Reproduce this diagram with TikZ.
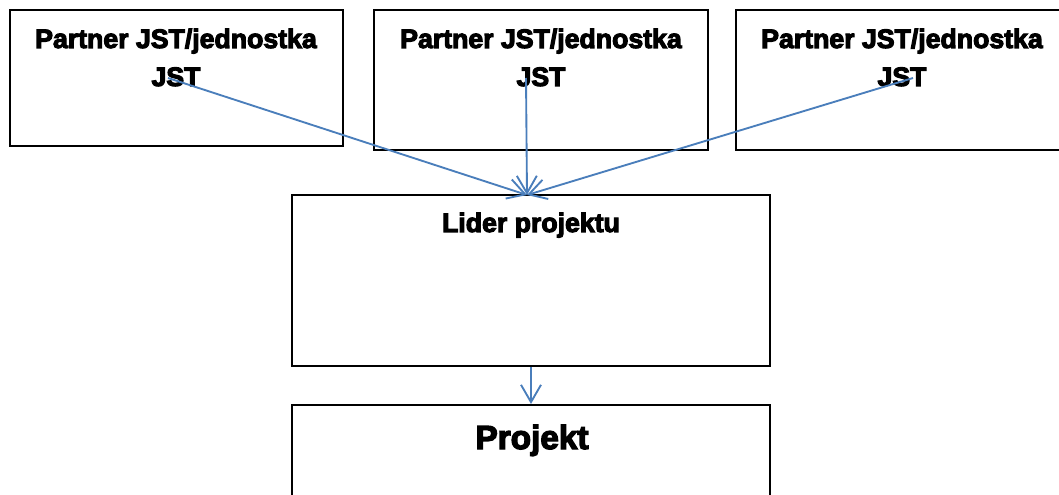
\documentclass[tikz,border=0pt]{standalone}
\usepackage{fontspec}
\setmainfont{Liberation Sans}
\newfontfamily\heavyfont[FakeBold=4]{Liberation Sans Bold}
\usetikzlibrary{arrows.meta}
\definecolor{linkblue}{RGB}{74,126,187}

\begin{document}
\begin{tikzpicture}[x=0.75pt,y=-0.75pt,
  box/.style={draw, line width=1.5pt, rectangle, inner sep=0pt},
  boxtext/.style={font=\fontsize{20}{24}\selectfont\heavyfont, anchor=base, inner sep=0pt},
  link/.style={draw=linkblue, line width=1.4pt, -{Straight Barb[length=13pt,width=15pt]}}]
\useasboundingbox (0,0) rectangle (1059,495);
\foreach \i/\cx/\cy/\w/\h/\tx/\sx in {1/176.5/78/249.75pt/102pt/176/168, 2/541/80/250.5pt/105pt/541/526, 3/905.5/80/254.25pt/105pt/902/913}
{
\node[name=partner\i, box, minimum width=\w, minimum height=\h] at (\cx,\cy) {};
\node[name=title\i, boxtext] at (\tx,48) {Partner JST/jednostka};
\node[name=jst\i, boxtext] at (\tx,86) {JST};
\coordinate (start\i) at (\sx,78);
}
\node[name=lider, box, minimum width=358.5pt, minimum height=128.25pt] at (531,280.5) {};
\node[name=lidertext, boxtext] at (531,232) {Lider projektu};
\node[name=projekt, box, minimum width=358.5pt, minimum height=93.75pt] at (531,467.5) {};
\node[name=projekttext, boxtext, font=\fontsize{25}{30}\selectfont\heavyfont] at (532,449) {Projekt};
\coordinate (hub) at (527,195);
\foreach \i in {1,2,3}
\draw[link] (start\i) -- (hub);
\draw[link] (lider.south) -- (projekt.north);
\end{tikzpicture}
\end{document}
